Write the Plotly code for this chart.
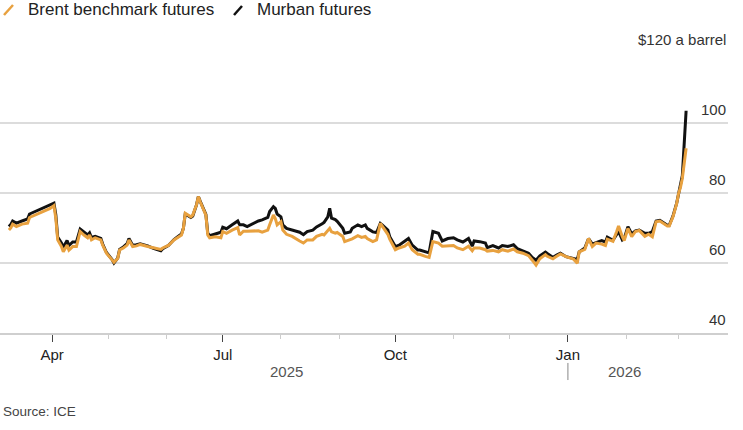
import plotly.graph_objects as go

# ---- data ----
dates = [
    "2025-03-09", "2025-03-10", "2025-03-11", "2025-03-13", "2025-03-16", "2025-03-19", "2025-03-20",
    "2025-03-22", "2025-03-25", "2025-03-27", "2025-03-29", "2025-03-31", "2025-04-02", "2025-04-03",
    "2025-04-04", "2025-04-06", "2025-04-07", "2025-04-09", "2025-04-10", "2025-04-12", "2025-04-14",
    "2025-04-16", "2025-04-18", "2025-04-20", "2025-04-21", "2025-04-22", "2025-04-24", "2025-04-27",
    "2025-04-28", "2025-04-30", "2025-05-03", "2025-05-04", "2025-05-06", "2025-05-07", "2025-05-09",
    "2025-05-11", "2025-05-12", "2025-05-14", "2025-05-16", "2025-05-18", "2025-05-22", "2025-05-25",
    "2025-05-29", "2025-05-30", "2025-06-02", "2025-06-05", "2025-06-07", "2025-06-09", "2025-06-10",
    "2025-06-11", "2025-06-14", "2025-06-15", "2025-06-17", "2025-06-18", "2025-06-19", "2025-06-22",
    "2025-06-23", "2025-06-24", "2025-06-27", "2025-06-30", "2025-07-01", "2025-07-03", "2025-07-06",
    "2025-07-09", "2025-07-10", "2025-07-12", "2025-07-14", "2025-07-17", "2025-07-20", "2025-07-22",
    "2025-07-25", "2025-07-26", "2025-07-28", "2025-07-29", "2025-07-30", "2025-08-01", "2025-08-02",
    "2025-08-04", "2025-08-07", "2025-08-11", "2025-08-13", "2025-08-15", "2025-08-18", "2025-08-20",
    "2025-08-23", "2025-08-24", "2025-08-26", "2025-08-27", "2025-08-28", "2025-08-30", "2025-08-31",
    "2025-09-03", "2025-09-04", "2025-09-07", "2025-09-08", "2025-09-11", "2025-09-13", "2025-09-15",
    "2025-09-16", "2025-09-19", "2025-09-21", "2025-09-23", "2025-09-24", "2025-09-27", "2025-09-28",
    "2025-10-01", "2025-10-03", "2025-10-06", "2025-10-08", "2025-10-10", "2025-10-13", "2025-10-14",
    "2025-10-17", "2025-10-19", "2025-10-21", "2025-10-24", "2025-10-26", "2025-10-29", "2025-11-01",
    "2025-11-03", "2025-11-06", "2025-11-09", "2025-11-11", "2025-11-12", "2025-11-15", "2025-11-18",
    "2025-11-19", "2025-11-22", "2025-11-25", "2025-11-27", "2025-11-30", "2025-12-03", "2025-12-05",
    "2025-12-08", "2025-12-11", "2025-12-13", "2025-12-15", "2025-12-17", "2025-12-20", "2025-12-21",
    "2025-12-24", "2025-12-26", "2025-12-28", "2025-12-31", "2026-01-04", "2026-01-06", "2026-01-07",
    "2026-01-10", "2026-01-12", "2026-01-14", "2026-01-16", "2026-01-19", "2026-01-21", "2026-01-22",
    "2026-01-25", "2026-01-27", "2026-01-28", "2026-01-30", "2026-01-31", "2026-02-02", "2026-02-04",
    "2026-02-06", "2026-02-08", "2026-02-11", "2026-02-13", "2026-02-15", "2026-02-17", "2026-02-19",
    "2026-02-21", "2026-02-23", "2026-02-24", "2026-02-26", "2026-02-28", "2026-03-01", "2026-03-02",
    "2026-03-03", "2026-03-05",
]

brent = [
    69.4, 70.0, 71.1, 70.4, 71.1, 71.4, 73.0,
    73.5, 74.2, 74.6, 75.1, 75.6, 76.4, 72.8,
    66.6, 64.7, 63.2, 65.1, 63.7, 64.7, 64.7,
    69.0, 68.0, 67.2, 68.0, 66.6, 67.2, 66.6,
    65.1, 62.8, 60.9, 60.2, 61.3, 63.7, 64.3,
    65.1, 66.6, 64.7, 64.9, 65.3, 64.7, 64.3,
    63.9, 64.3, 65.0, 66.6, 67.2, 68.0, 69.9,
    74.2, 73.2, 73.7, 76.6, 79.0, 77.5, 73.7,
    68.0, 67.2, 67.5, 67.2, 69.0, 68.5, 69.4,
    70.1, 68.0, 69.1, 69.1, 69.1, 69.2, 68.8,
    69.4, 70.9, 73.7, 72.7, 70.9, 71.8, 69.4,
    68.2, 67.6, 66.3, 65.7, 66.6, 66.6, 67.6,
    68.2, 68.0, 69.4, 69.9, 68.9, 68.5, 68.7,
    67.6, 66.1, 66.6, 66.9, 67.8, 67.3, 67.6,
    67.0, 66.1, 66.6, 71.3, 70.6, 68.2, 66.8,
    63.8, 64.3, 64.8, 65.7, 63.8, 62.5, 62.5,
    61.9, 61.6, 66.1, 65.7, 64.8, 65.0, 65.0,
    64.3, 63.8, 64.8, 63.5, 64.3, 64.3, 63.8,
    63.4, 63.6, 63.2, 63.8, 63.4, 64.0, 63.2,
    62.8, 62.1, 60.8, 59.4, 61.2, 62.4, 61.9,
    61.2, 61.9, 62.6, 61.8, 61.1, 59.9, 63.2,
    63.9, 67.0, 64.7, 65.7, 65.4, 65.0, 66.8,
    66.2, 69.0, 70.6, 67.5, 66.4, 69.9, 67.5,
    69.0, 69.3, 67.6, 68.2, 67.5, 71.8, 72.0,
    71.3, 70.6, 70.6, 73.2, 77.0, 79.9, 81.6,
    84.2, 92.8,
]

murban = [
    70.4, 71.0, 72.0, 71.4, 72.0, 72.6, 74.0,
    74.5, 75.2, 75.6, 76.2, 76.6, 77.1, 73.8,
    67.4, 65.7, 64.5, 66.4, 65.0, 66.0, 66.0,
    69.7, 68.8, 68.0, 68.6, 67.3, 67.6, 67.0,
    65.4, 63.0, 61.0, 60.0, 61.4, 63.9, 64.6,
    65.5, 67.0, 65.0, 65.2, 65.5, 64.9, 64.2,
    63.5, 64.1, 65.0, 66.7, 67.5, 68.3, 69.9,
    74.0, 73.0, 73.4, 76.6, 79.0, 77.6, 73.9,
    68.5, 67.8, 68.3, 68.8, 70.2, 69.8, 70.9,
    72.0, 70.9, 70.9, 70.4, 71.3, 72.0, 72.3,
    73.0, 74.7, 76.1, 75.6, 74.0, 73.2, 70.9,
    69.9, 69.4, 68.8, 68.1, 69.0, 69.4, 70.3,
    71.2, 71.6, 73.2, 75.6, 72.8, 72.4, 71.9,
    69.9, 68.5, 68.9, 69.9, 70.9, 70.4, 70.9,
    69.9, 68.9, 68.7, 71.3, 70.9, 69.4, 67.5,
    64.7, 65.1, 66.1, 67.0, 65.1, 63.7, 63.7,
    63.1, 62.9, 69.0, 68.5, 66.3, 67.0, 67.2,
    66.6, 66.0, 67.0, 64.8, 66.3, 66.1, 65.7,
    64.4, 65.0, 64.3, 65.0, 64.7, 65.2, 64.1,
    63.4, 62.8, 61.6, 60.8, 62.0, 63.1, 62.7,
    61.6, 62.3, 62.8, 61.8, 61.3, 61.0, 63.2,
    64.3, 67.0, 65.4, 65.8, 66.4, 66.0, 67.4,
    66.5, 68.0, 69.0, 66.6, 67.0, 70.4, 68.3,
    69.2, 69.4, 68.5, 68.5, 69.0, 72.0, 72.2,
    71.6, 70.8, 70.8, 73.4, 77.2, 80.1, 82.0,
    85.0, 103.5,
]

series_names = ["Brent benchmark futures", "Murban futures"]
y_tick_values = [120, 100, 80, 60, 40]
y_tick_labels = ["$120 a barrel", "100", "80", "60", "40"]
year_labels = ["2025", "2026"]
source_text = "Source: ICE"

ORANGE = "#E8A13F"
BLACK = "#111111"
FONT = "Arial, 'Liberation Sans', Helvetica, sans-serif"

fig = go.Figure()
fig.add_trace(go.Scatter(x=dates, y=murban, mode="lines", name=series_names[1],
                         line=dict(color=BLACK, width=3), showlegend=False))
fig.add_trace(go.Scatter(x=dates, y=brent, mode="lines", name=series_names[0],
                         line=dict(color=ORANGE, width=3), showlegend=False))

fig.update_layout(
    width=743, height=430,
    margin=dict(l=0, r=15, t=53, b=97),
    paper_bgcolor="white", plot_bgcolor="white",
    font=dict(family=FONT, size=15, color="#222"),
    showlegend=False,
    xaxis=dict(
        type="date",
        range=["2025-03-04 06:00", "2026-03-27 08:00"],
        tick0="2025-01-01", dtick="M3", tickformat="%b",
        ticks="outside", ticklen=7, tickwidth=1.2, tickcolor="#444",
        showgrid=False, zeroline=False,
        showline=True, linecolor="#cfcfcf", linewidth=1.5,
        tickfont=dict(size=15, color="#222"),
        minor=dict(dtick="M1", tick0="2025-01-01", ticks="outside", ticklen=4,
                   tickcolor="#cccccc", tickwidth=1, showgrid=False),
        fixedrange=True,
    ),
    yaxis=dict(
        range=[40, 120],
        tickvals=y_tick_values, showticklabels=False,
        showgrid=True, gridcolor="#dcdcdc", gridwidth=1.5,
        zeroline=False, showline=False, fixedrange=True,
    ),
)

annotations = []
for v, t in zip(y_tick_values, y_tick_labels):
    annotations.append(dict(x=1, xref="paper", y=v, yref="y", text=t, showarrow=False,
                            xanchor="right", yanchor="bottom", yshift=3,
                            font=dict(size=15, color="#333")))

# year labels
annotations.append(dict(x="2025-08-04", xref="x", y=-0.136, yref="paper", text=year_labels[0],
                        showarrow=False, xanchor="center", yanchor="middle",
                        font=dict(size=15, color="#555")))
annotations.append(dict(x="2026-01-31", xref="x", y=-0.136, yref="paper", text=year_labels[1],
                        showarrow=False, xanchor="center", yanchor="middle",
                        font=dict(size=15, color="#555")))

# source
annotations.append(dict(x=0, xref="paper", y=-0.279, yref="paper", text=source_text,
                        showarrow=False, xanchor="left", yanchor="middle", xshift=1,
                        font=dict(size=13.5, color="#444")))

# legend texts
annotations.append(dict(x=26 / 728, xref="paper", y=(333 - 9.5) / 280, yref="paper",
                        text=series_names[0], showarrow=False, xanchor="left", yanchor="middle",
                        font=dict(size=17, color="#222")))
annotations.append(dict(x=255 / 728, xref="paper", y=(333 - 9.5) / 280, yref="paper",
                        text=series_names[1], showarrow=False, xanchor="left", yanchor="middle",
                        font=dict(size=17, color="#222")))

shapes = [
    # legend slashes
    dict(type="line", xref="paper", yref="paper",
         x0=4 / 728, y0=(333 - 15) / 280, x1=13 / 728, y1=(333 - 5) / 280,
         line=dict(color=ORANGE, width=2.5)),
    dict(type="line", xref="paper", yref="paper",
         x0=234 / 728, y0=(333 - 15) / 280, x1=242 / 728, y1=(333 - 6) / 280,
         line=dict(color=BLACK, width=2.5)),
    # year separator at Jan 2026
    dict(type="line", xref="x", yref="paper",
         x0="2026-01-01", x1="2026-01-01", y0=-0.107, y1=-0.168,
         line=dict(color="#888", width=1)),
]

fig.update_layout(annotations=annotations, shapes=shapes)
fig.write_html("out.html", config={"displayModeBar": False})
